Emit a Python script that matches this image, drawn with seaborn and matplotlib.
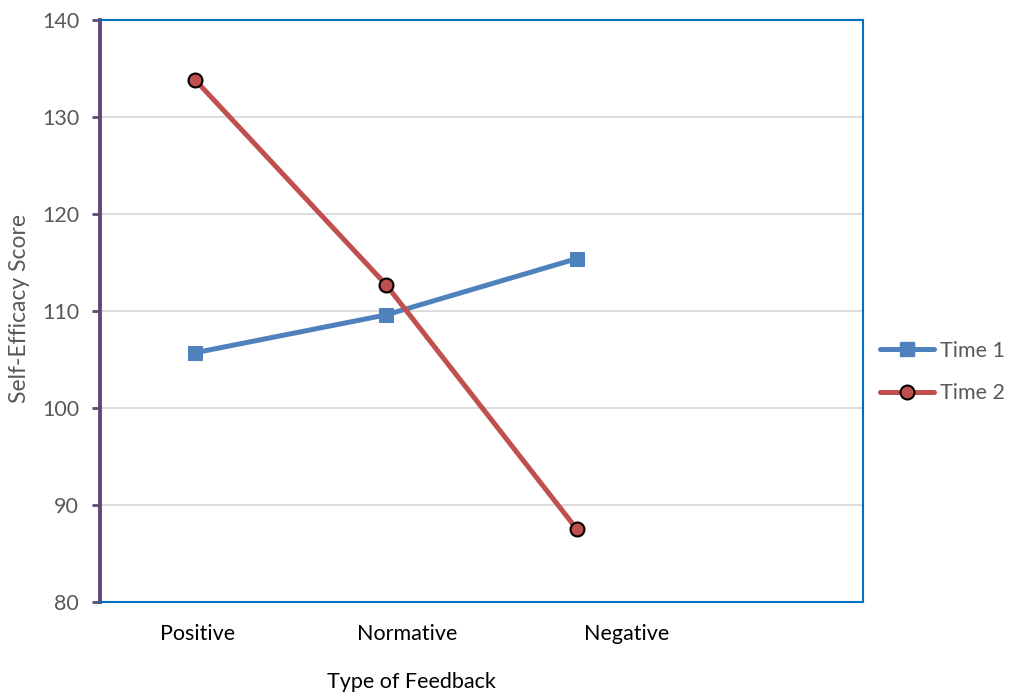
import pandas as pd
import matplotlib.pyplot as plt
import seaborn as sns
from matplotlib.lines import Line2D

categories = ["Positive", "Normative", "Negative"]
time1 = [105.7, 109.6, 115.4]
time2 = [133.8, 112.7, 87.5]
series_names = ["Time 1", "Time 2"]
y_ticks = [80, 90, 100, 110, 120, 130, 140]

# where the category labels sit (the source chart draws them a bit off-centre)
label_positions = [0.01, 1.11, 2.26]


def build_frame():
    rows = []
    for name, values in zip(series_names, [time1, time2]):
        for i, (cat, v) in enumerate(zip(categories, values)):
            rows.append({"pos": i, "feedback": cat, "score": v, "series": name})
    return pd.DataFrame(rows)


def main():
    sns.set_theme(style="white")
    plt.rcParams['font.family'] = ['Lato', 'DejaVu Sans']

    df = build_frame()
    fig = plt.figure(figsize=(10.09, 6.94), dpi=100)
    ax = fig.add_axes([0.0991, 0.1326, 0.7562, 0.8386])

    palette = {"Time 1": "#4F81BD", "Time 2": "#C0504D"}
    markers = {"Time 1": "s", "Time 2": "o"}
    sns.lineplot(data=df, x="pos", y="score", hue="series", style="series",
                 palette=palette, markers=markers, dashes=False, linewidth=3.6,
                 markersize=10, ax=ax, legend=False, zorder=3)
    for line, name in zip(ax.lines, series_names):
        if name == "Time 2":
            line.set_markeredgecolor("black")
            line.set_markeredgewidth(1.5)
        else:
            line.set_markeredgecolor(palette[name])

    ax.set_xlim(-0.5, 3.5)
    ax.set_ylim(80, 140)
    ax.set_yticks(y_ticks)
    ax.set_xticks(label_positions)
    ax.set_xticklabels(categories, fontsize=15.5, color="black")
    ax.tick_params(axis="x", bottom=False, length=0, pad=16)
    ax.tick_params(axis="y", left=True, labelsize=15.5, labelcolor="#595959",
                   length=6, width=2, color="#5F497A", direction="out", pad=9)
    ax.grid(axis="y", color="#D9D9D9", linewidth=1.3, zorder=0)
    ax.set_axisbelow(True)

    for side in ["top", "right", "bottom"]:
        ax.spines[side].set_color("#0070C0")
        ax.spines[side].set_linewidth(1.5)
    ax.spines["left"].set_color("#5F497A")
    ax.spines["left"].set_linewidth(2.8)

    ax.set_xlabel("Type of Feedback", fontsize=15.5, color="black")
    ax.xaxis.set_label_coords(0.408, -0.12)
    ax.set_ylabel("Self-Efficacy Score", fontsize=16.5, color="#595959")
    ax.yaxis.set_label_coords(-0.092, 0.505)

    handles = [
        Line2D([], [], color=palette["Time 1"], linewidth=3.6, marker="s",
               markersize=10, markeredgecolor=palette["Time 1"]),
        Line2D([], [], color=palette["Time 2"], linewidth=3.6, marker="o",
               markersize=10, markeredgecolor="black", markeredgewidth=1.5),
    ]
    fig.legend(handles, series_names, loc="center left",
               bbox_to_anchor=(0.872, 0.464), frameon=False, fontsize=15.5,
               handlelength=2.5, handletextpad=0.3, labelspacing=1.05,
               labelcolor="#595959", borderaxespad=0, borderpad=0)

    plt.savefig("out.png", dpi=100)
    plt.close()


if __name__ == "__main__":
    main()
